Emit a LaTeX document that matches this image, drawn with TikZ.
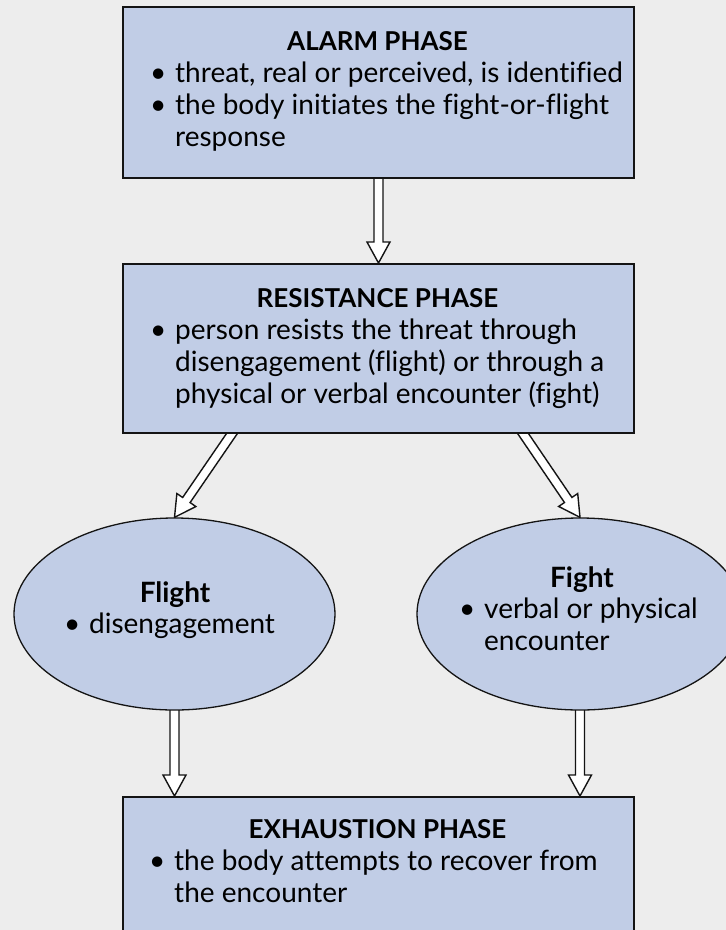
\documentclass[tikz,border=0pt]{standalone}
\usepackage{fontspec}
\setmainfont{Lato}[Ligatures=CommonOff]
\usetikzlibrary{shapes.geometric,calc}
\definecolor{bgc}{RGB}{237,237,237}
\definecolor{boxfill}{RGB}{193,205,230}
\definecolor{edge}{RGB}{20,20,20}
\pgfdeclarelayer{back}
\pgfdeclarelayer{arr}
\pgfsetlayers{back,arr,main}
\tikzset{
  phase/.style={draw=edge, line width=2pt, fill=boxfill, rectangle, inner sep=0pt, minimum width=511pt, anchor=north west},
  oval/.style={draw=edge, line width=1.3pt, fill=boxfill, ellipse, inner sep=0pt},
  ttl/.style={font=\fontsize{26}{32}\bfseries\selectfont, inner sep=0pt, anchor=base},
  ovalttl/.style={ttl, font=\fontsize{28}{32}\bfseries\selectfont},
  body/.style={font=\fontsize{28}{32}\selectfont, inner sep=0pt, anchor=north west, align=left},
  hollow/.style={draw=edge, line width=1.4pt, fill=white, line join=miter},
}
\newcommand{\bul}{\llap{\makebox[25pt][l]{\textbullet}}}
\newcommand{\hollowarrow}[2]{%
  \path ($(#2)!21pt!(#1)$) coordinate (hh) ($(#1)!-12pt!(#2)$) coordinate (tt);
  \draw[hollow] ($(tt)!4.5pt!90:(#2)$) -- ($(hh)!4.5pt!90:(#2)$) -- ($(hh)!11.5pt!90:(#2)$)
     -- (#2) -- ($(hh)!11.5pt!-90:(#2)$) -- ($(hh)!4.5pt!-90:(#2)$) -- ($(tt)!4.5pt!-90:(#2)$) -- cycle;
}
\begin{document}
\begin{tikzpicture}[x=1pt,y=-1pt]
\useasboundingbox (0,0) rectangle (726,930);
\begin{pgfonlayer}{back}
\fill[bgc] (0,0) rectangle (726,930);
\end{pgfonlayer}

% shapes
\node[phase, minimum height=171pt] (alarm) at (122,6) {};
\node[phase, minimum height=169pt] (res) at (122,263) {};
\node[phase, minimum height=142pt] (exh) at (122,796) {};
\node[oval, minimum width=321pt, minimum height=192pt] (flight) at (174.5,614) {};
\node[oval, minimum width=326pt, minimum height=192pt] (fight) at (580,614) {};

% texts
\node[ttl] (alarmT) at (377.5,50) {ALARM PHASE};
\node[body] (alarmB) at (175,59.6) {\strut\bul threat, real or perceived, is identified\\\bul the body initiates the fight-or-flight\\response};

\node[ttl] (resT) at (377.5,307) {RESISTANCE PHASE};
\node[body] (resB) at (175,316.6) {\strut\bul person resists the threat through\\disengagement (flight) or through a\\physical or verbal encounter (fight)};

\node[ovalttl] (flightT) at (175,602) {Flight};
\node[body] (flightB) at (89,610.6) {\strut\bul disengagement};

\node[ovalttl] (fightT) at (582,587) {Fight};
\node[body] (fightB) at (484,595.6) {\strut\bul verbal or physical\\encounter};

\node[ttl] (exhT) at (377.5,838) {EXHAUSTION PHASE};
\node[body] (exhB) at (174,847.6) {\strut\bul the body attempts to recover from\\the encounter};

% connectors
\coordinate (rL) at (233,432);
\coordinate (rR) at (522,432);
\coordinate (eL) at (flight.south |- exh.north);
\coordinate (eR) at (fight.south |- exh.north);
\begin{pgfonlayer}{arr}
\hollowarrow{alarm.south}{res.north}
\hollowarrow{rL}{flight.north}
\hollowarrow{rR}{fight.north}
\hollowarrow{flight.south}{eL}
\hollowarrow{fight.south}{eR}
\end{pgfonlayer}
\end{tikzpicture}
\end{document}
